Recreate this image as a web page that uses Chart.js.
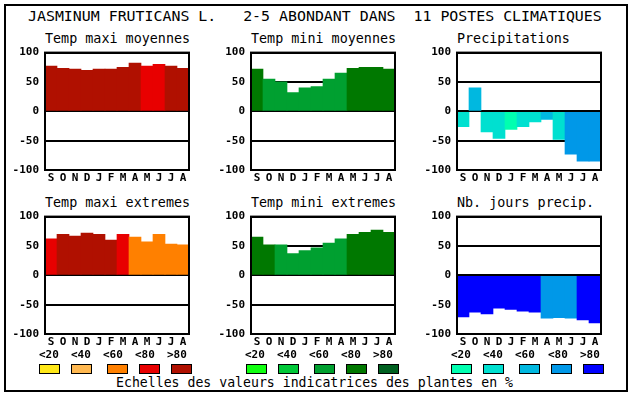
<!DOCTYPE html>
<html>
<head>
<meta charset="utf-8">
<script src="https://cdn.jsdelivr.net/npm/chart.js@4/dist/chart.umd.min.js"></script>
<style>
  html, body { margin: 0; padding: 0; background: #fff; }
  #page { position: relative; width: 630px; height: 394px; overflow: hidden; background: #fff; }
  #frame { position: absolute; left: 4px; top: 4px; width: 620px; height: 384px; border: 2px solid #000; }
  .txt { position: absolute; white-space: pre; font-family: "DejaVu Sans Mono", monospace; color: #000; line-height: 1; }
  .lab { position: absolute; white-space: pre; font-family: "DejaVu Sans Mono", monospace; font-weight: bold; font-size: 11px; color: #000; line-height: 1; }
  .sw { position: absolute; width: 19px; height: 8px; border: 1px solid #000; }
  canvas { position: absolute; }
</style>
</head>
<body>
<div id="page">
  <div id="frame"></div>
  <div class="txt" style="left:28px; top:9px; font-size:14.9px;">JASMINUM FRUTICANS L.   2-5 ABONDANT DANS  11 POSTES CLIMATIQUES</div>
  <div class="txt" style="left:116px; top:376px; font-size:13.2px;">Echelles des valeurs indicatrices des plantes en %</div>
</div>
<script>
// mois (septembre -> aout)
const months = ['S', 'O', 'N', 'D', 'J', 'F', 'M', 'A', 'M', 'J', 'J', 'A'];
const yTicks = [-100, -50, 0, 50, 100];
const classLabels = ['<20', '<40', '<60', '<80', '>80'];

// palettes des classes (indice 0 = <20 ... 4 = >80)
const reds   = ['#ffe818', '#ffb850', '#ff8000', '#e80000', '#b01000'];
const greens = ['#10ff10', '#00c838', '#00a030', '#007800', '#006020'];
const blues  = ['#00ffb0', '#00e0d0', '#00b8e0', '#0098e8', '#0000ff'];

// valeurs
const maxiMoy   = [77, 73, 72, 70, 72, 72, 75, 82, 77, 80, 77, 73];
const maxiMoyC  = [4, 4, 4, 4, 4, 4, 4, 4, 3, 3, 4, 4];
const miniMoy   = [72, 55, 50, 32, 40, 42, 55, 65, 73, 75, 75, 72];
const miniMoyC  = [3, 2, 2, 2, 2, 2, 2, 2, 3, 3, 3, 3];
const precip    = [-26, 40, -35, -46, -31, -26, -18, -14, -48, -73, -85, -85];
const precipC   = [1, 2, 1, 1, 0, 1, 1, 2, 1, 3, 3, 3];
const maxiExt   = [62, 70, 67, 72, 70, 60, 70, 65, 57, 70, 53, 52];
const maxiExtC  = [3, 4, 4, 4, 4, 4, 3, 2, 2, 2, 2, 2];
const miniExt   = [65, 52, 52, 37, 42, 47, 55, 62, 70, 73, 77, 73];
const miniExtC  = [3, 3, 2, 2, 2, 2, 2, 2, 3, 3, 3, 3];
const joursPr   = [-71, -63, -66, -56, -58, -61, -63, -73, -72, -73, -76, -81];
const joursPrC  = [4, 4, 4, 4, 4, 4, 4, 3, 3, 3, 4, 4];

const panels = [
  { title: 'Temp maxi moyennes',  data: maxiMoy, cls: maxiMoyC, pal: reds,   x: 45,  y: 50 },
  { title: 'Temp mini moyennes',  data: miniMoy, cls: miniMoyC, pal: greens, x: 251, y: 50 },
  { title: 'Precipitations',      data: precip,  cls: precipC,  pal: blues,  x: 457, y: 50 },
  { title: 'Temp maxi extremes',  data: maxiExt, cls: maxiExtC, pal: reds,   x: 45,  y: 214 },
  { title: 'Temp mini extremes',  data: miniExt, cls: miniExtC, pal: greens, x: 251, y: 214 },
  { title: 'Nb. jours precip.',   data: joursPr, cls: joursPrC, pal: blues,  x: 457, y: 214 },
];

const legends = [
  { pal: reds,   labX: [39, 71, 103, 135, 167], swX: [39, 71, 107, 139, 171] },
  { pal: greens, labX: [245, 277, 309, 341, 373], swX: [246, 278, 314, 346, 378] },
  { pal: blues,  labX: [451, 483, 515, 548, 580], swX: [451, 483, 519, 551, 583] },
];

const page = document.getElementById('page');
const MONO = '"DejaVu Sans Mono", monospace';
const AXW = 42, PADT = 10, PADR = 4, XH = 18;
const PW = 144, PH = 120;

// cadre autour de la zone de tracé
const boxPlugin = {
  id: 'box',
  afterDraw(chart) {
    const a = chart.chartArea, ctx = chart.ctx;
    ctx.save();
    ctx.strokeStyle = '#000';
    ctx.lineWidth = 2;
    ctx.strokeRect(a.left, a.top, a.right - a.left, a.bottom - a.top);
    ctx.restore();
  }
};

function addText(cls, text, x, y, size) {
  const d = document.createElement('div');
  d.className = cls;
  d.textContent = text;
  d.style.left = x + 'px';
  d.style.top = y + 'px';
  if (size) d.style.fontSize = size + 'px';
  page.appendChild(d);
}

panels.forEach(p => {
  addText('txt', p.title, p.x, p.y - 18, 13.4);

  const cv = document.createElement('canvas');
  cv.width = AXW + PW + PADR;
  cv.height = PADT + PH + XH;
  cv.style.left = (p.x - AXW) + 'px';
  cv.style.top = (p.y - PADT) + 'px';
  page.appendChild(cv);

  new Chart(cv, {
    type: 'bar',
    data: {
      labels: months,
      datasets: [{
        data: p.data,
        backgroundColor: p.cls.map(c => p.pal[c]),
        borderWidth: 0,
        categoryPercentage: 1,
        barPercentage: 1,
      }],
    },
    options: {
      responsive: false,
      animation: false,
      layout: { padding: { top: PADT, right: PADR, left: 0, bottom: 0 } },
      plugins: { legend: { display: false }, tooltip: { enabled: false } },
      scales: {
        x: {
          grid: { display: false, drawTicks: false },
          border: { display: false },
          ticks: { color: '#000', font: { family: MONO, size: 11, weight: 'bold' }, padding: 2, autoSkip: false, maxRotation: 0 },
          afterFit(s) { s.height = XH; },
        },
        y: {
          min: -100,
          max: 100,
          z: 1,
          afterBuildTicks(s) { s.ticks = yTicks.map(v => ({ value: v })); },
          ticks: { color: '#000', font: { family: MONO, size: 11, weight: 'bold' }, padding: 6 },
          grid: { color: '#000', lineWidth: 2, drawTicks: false },
          border: { display: false },
          afterFit(s) { s.width = AXW; },
        },
      },
    },
    plugins: [boxPlugin],
  });
});

// échelles de couleurs
legends.forEach(l => {
  classLabels.forEach((t, i) => {
    addText('lab', t, l.labX[i], 349);
    const s = document.createElement('div');
    s.className = 'sw';
    s.style.left = l.swX[i] + 'px';
    s.style.top = '364px';
    s.style.background = l.pal[i];
    page.appendChild(s);
  });
});
</script>
</body>
</html>
